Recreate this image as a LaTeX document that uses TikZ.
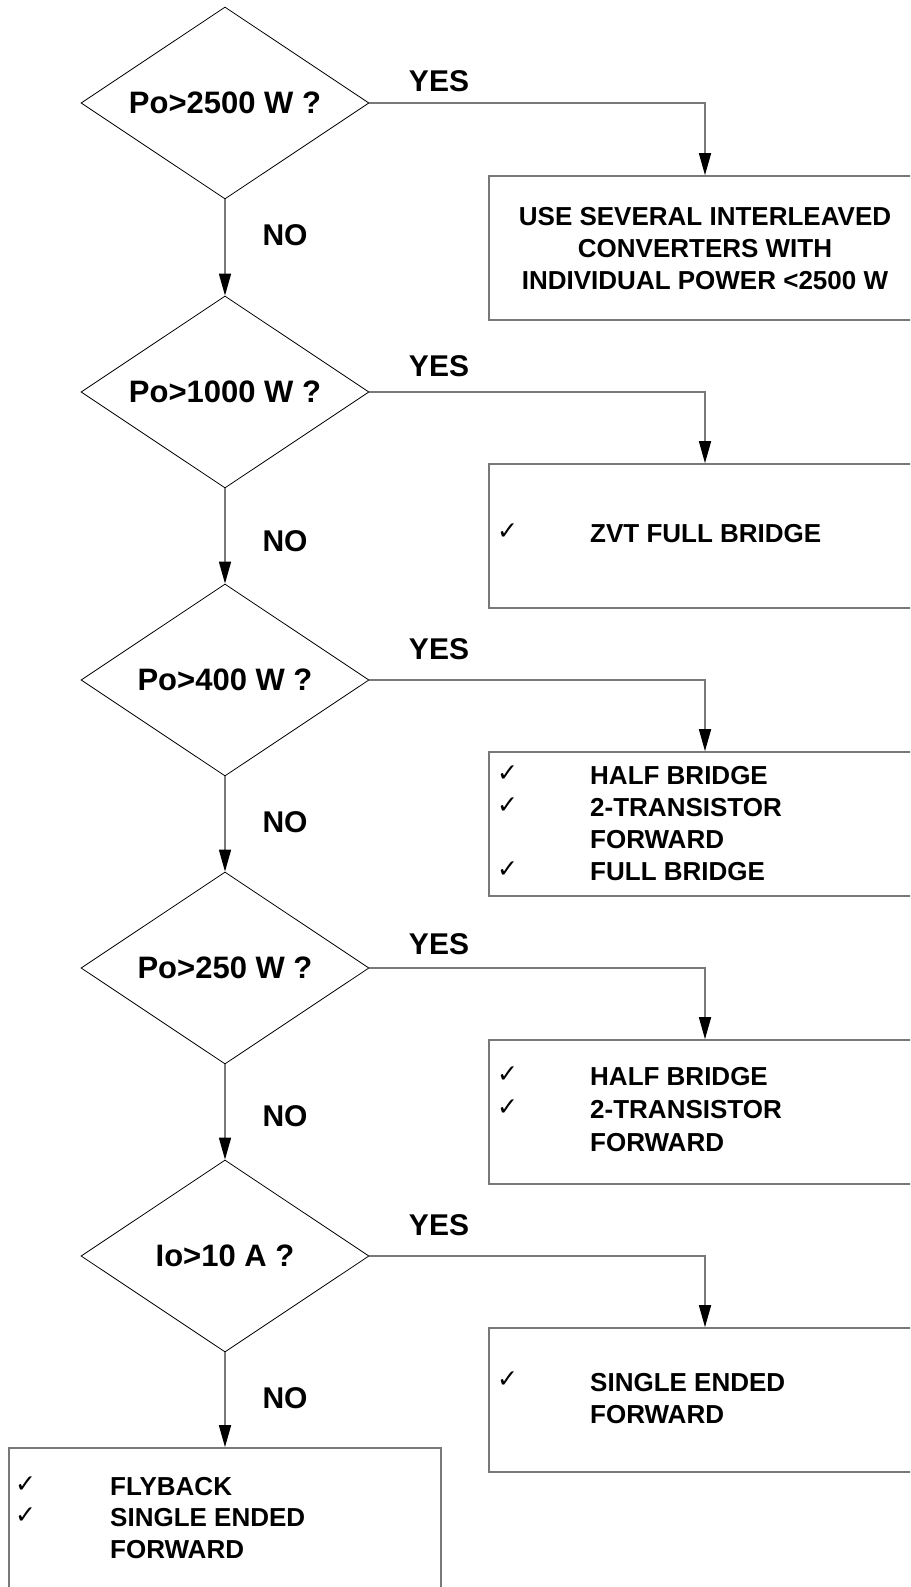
\documentclass[tikz,border=0pt]{standalone}
\usepackage{fontspec}
\setmainfont{Liberation Sans}
\newfontfamily\chkfont{DejaVu Sans}
\usetikzlibrary{shapes.geometric,arrows.meta}
\definecolor{linegray}{RGB}{120,120,120}
\tikzset{
  decision/.style={shape=diamond, aspect=3, draw=black, line width=0.8pt, minimum width=288pt, minimum height=192pt, inner sep=0pt, font=\fontsize{31}{36}\selectfont\bfseries},
  resultbox/.style={rectangle, draw=linegray, line width=1.6pt, inner sep=0pt},
  conn/.style={draw=linegray, line width=1.5pt, -{Triangle[length=22pt,width=12pt,color=black]}},
  lbl/.style={font=\fontsize{30}{36}\selectfont\bfseries, inner sep=0pt},
  boxtxt/.style={font=\fontsize{26}{32}\selectfont\bfseries, inner sep=0pt, anchor=west},
  chk/.style={font=\fontsize{25}{28}\selectfont\chkfont\bfseries, inner sep=0pt, anchor=west}
}
\begin{document}
\begin{tikzpicture}[x=1pt,y=-1pt]
\clip (0,0) rectangle (910,1587);
\fill[white] (0,0) rectangle (910,1587);
% decisions
\node[decision] (d1) at (225,103) {Po>2500 W ?};
\node[decision] (d2) at (225,392) {Po>1000 W ?};
\node[decision] (d3) at (225,680) {Po>400 W ?};
\node[decision] (d4) at (225,968) {Po>250 W ?};
\node[decision] (d5) at (225,1256) {Io>10 A ?};
% result boxes
\node[resultbox, minimum width=432pt, minimum height=144pt] (b1) at (705,248) {};
\node[resultbox, minimum width=432pt, minimum height=144pt] (b2) at (705,536) {};
\node[resultbox, minimum width=432pt, minimum height=144pt] (b3) at (705,824) {};
\node[resultbox, minimum width=432pt, minimum height=144pt] (b4) at (705,1112) {};
\node[resultbox, minimum width=432pt, minimum height=144pt] (b5) at (705,1400) {};
\node[resultbox, minimum width=432pt, minimum height=200pt] (b6) at (225,1548) {};
% box texts
\node[font=\fontsize{26}{32}\selectfont\bfseries, align=center, inner sep=0pt] (t1) at (705,249) {USE SEVERAL INTERLEAVED\\CONVERTERS WITH\\INDIVIDUAL POWER <2500 W};
\node[chk] (c2) at (497,532) {✓};
\node[boxtxt] (t2) at (590,534) {ZVT FULL BRIDGE};
\node[chk] (c3a) at (497,774) {✓};
\node[boxtxt] (t3a) at (590,776) {HALF BRIDGE};
\node[chk] (c3b) at (497,806) {✓};
\node[boxtxt] (t3b) at (590,808) {2-TRANSISTOR};
\node[boxtxt] (t3c) at (590,840) {FORWARD};
\node[chk] (c3d) at (497,870) {✓};
\node[boxtxt] (t3d) at (590,872) {FULL BRIDGE};
\node[chk] (c4a) at (497,1075) {✓};
\node[boxtxt] (t4a) at (590,1077) {HALF BRIDGE};
\node[chk] (c4b) at (497,1108) {✓};
\node[boxtxt] (t4b) at (590,1110) {2-TRANSISTOR};
\node[boxtxt] (t4c) at (590,1143) {FORWARD};
\node[chk] (c5) at (497,1380) {✓};
\node[boxtxt] (t5a) at (590,1383) {SINGLE ENDED};
\node[boxtxt] (t5b) at (590,1415) {FORWARD};
\node[chk] (c6a) at (15,1485) {✓};
\node[boxtxt] (t6a) at (110,1487) {FLYBACK};
\node[chk] (c6b) at (15,1516) {✓};
\node[boxtxt] (t6b) at (110,1518) {SINGLE ENDED};
\node[boxtxt] (t6c) at (110,1550) {FORWARD};
% connectors
\draw[conn] (d1.east) -| (b1.north);
\draw[conn] (d2.east) -| (b2.north);
\draw[conn] (d3.east) -| (b3.north);
\draw[conn] (d4.east) -| (b4.north);
\draw[conn] (d5.east) -| (b5.north);
\draw[conn] (d1.south) -- (d2.north);
\draw[conn] (d2.south) -- (d3.north);
\draw[conn] (d3.south) -- (d4.north);
\draw[conn] (d4.south) -- (d5.north);
\draw[conn] (d5.south) -- (b6.north);
% labels
\node[lbl] (y1) at (439,81) {YES};
\node[lbl] (y2) at (439,366) {YES};
\node[lbl] (y3) at (439,649) {YES};
\node[lbl] (y4) at (439,944) {YES};
\node[lbl] (y5) at (439,1225) {YES};
\node[lbl] (n1) at (285,235) {NO};
\node[lbl] (n2) at (285,541) {NO};
\node[lbl] (n3) at (285,822) {NO};
\node[lbl] (n4) at (285,1116) {NO};
\node[lbl] (n5) at (285,1398) {NO};
\end{tikzpicture}
\end{document}
